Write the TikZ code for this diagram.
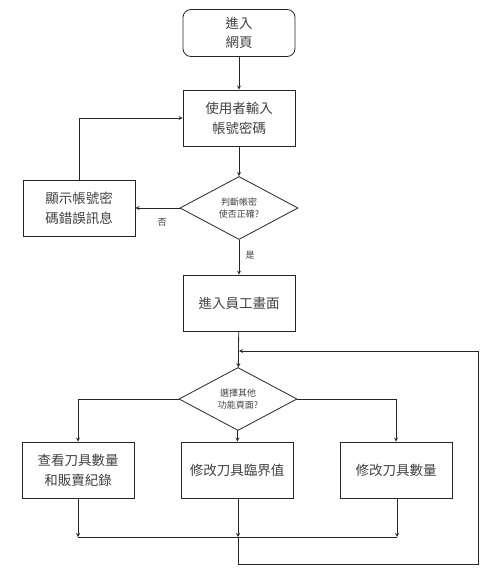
\documentclass[tikz,border=0pt]{standalone}
\usepackage{fontspec}
\setmainfont{Noto Sans CJK TC}
\usetikzlibrary{shapes.geometric}
\begin{document}
\begin{tikzpicture}[x=1pt, y=-1pt, >=stealth, line width=0.8pt, draw=black!85]
        \tikzstyle{start}=[draw, rounded corners=8pt, minimum width=112pt, minimum height=47pt, align=center, font=\fontsize{13.5}{19}\selectfont, text=black!75]
        \tikzstyle{process}=[draw, shape=rectangle, minimum width=112pt, minimum height=56pt, align=center, font=\fontsize{13.5}{20}\selectfont, text=black!75]
        \tikzstyle{decision}=[draw, shape=diamond, inner sep=0pt, minimum width=118pt, minimum height=63pt, align=center, font=\fontsize{9}{12}\selectfont, text=black!75]
        \tikzstyle{tag}=[font=\fontsize{9}{11}\selectfont, text=black!75]

        \useasboundingbox (0,0) rectangle (500,581);

        \node[start](web) at (239,33){進入\\網頁};
        \node[process](login) at (239,118){使用者輸入\\帳號密碼};
        \node[decision](check) at (239,208){判斷帳密\\使否正確?};
        \node[process](error) at (79,208){顯示帳號密\\碼錯誤訊息};
        \node[process](staff) at (239,303){進入員工畫面};
        \node[decision](menu) at (238,399){選擇其他\\功能頁面?};
        \node[process](record) at (78,470){查看刀具數量\\和販賣紀錄};
        \node[process](limit) at (237,470){修改刀具臨界值};
        \node[process](amount) at (396,470){修改刀具數量};

        \node[tag](no) at (162,222){否};
        \node[tag](yes) at (250,255){是};

        \coordinate (m-1) at (78,537);
        \coordinate (m-2) at (238,537);
        \coordinate (m-3) at (397,537);
        \coordinate (loop-1) at (238,564);
        \coordinate (loop-2) at (478,564);
        \coordinate (back) at (239,351);

        \draw[->] (web) -- (login);
        \draw[->] (login) -- (check);
        \draw[->] (check) -- (error);
        \draw[->] (error) |- (login);
        \draw[->] (check) -- (staff);
        \draw[->] (staff) -- (menu);
        \draw[->] (menu) -| (record);
        \draw[->] (menu) -- (limit);
        \draw[->] (menu) -| (amount);

        \draw[->] (record) -- (m-1);
        \draw[->] (limit.south -| m-2) -- (m-2);
        \draw[->] (amount.south -| m-3) -- (m-3);
        \draw (m-1) -- (m-3);
        \draw[->] (m-2) -- (loop-1) -- (loop-2) |- (back);

        \end{tikzpicture}
\end{document}
